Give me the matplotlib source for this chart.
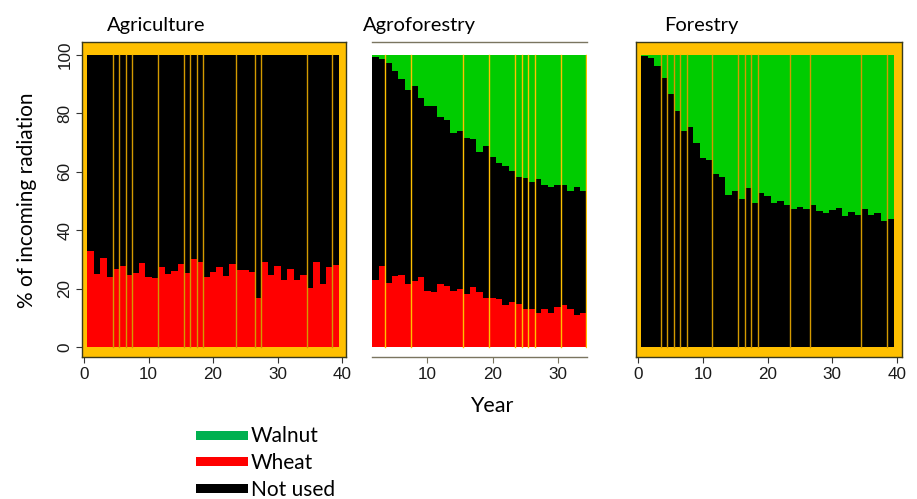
import numpy as np
import matplotlib.pyplot as plt
from matplotlib.patches import Rectangle

plt.rcParams['font.family'] = 'Liberation Sans'

# ---- data ----
years_full = np.arange(1, 40)
years_agro = np.arange(2, 35)

agri_wheat = [32.9, 25.1, 30.4, 24.0, 26.8, 27.9, 24.7, 25.5, 28.7, 24.0,
              23.7, 27.3, 25.1, 26.1, 28.3, 25.5, 30.1, 29.0, 24.0, 25.8,
              27.3, 24.4, 28.3, 26.3, 26.3, 25.8, 16.9, 29.0, 24.7, 27.9,
              22.9, 26.8, 22.9, 24.7, 20.1, 29.0, 21.5, 27.3, 28.0]

agro_wheat = [22.9, 27.9, 21.8, 24.3, 24.7, 21.5, 22.7, 23.9, 19.3, 18.7,
              21.7, 21.0, 19.2, 20.0, 18.2, 20.7, 18.9, 16.9, 16.7, 16.3,
              14.3, 15.5, 14.7, 13.1, 12.9, 11.5, 12.9, 11.5, 13.6, 14.3,
              12.9, 10.8, 11.5]
agro_used = [99.4, 98.6, 97.1, 94.5, 91.7, 88.0, 89.4, 85.2, 82.4, 82.4,
             78.7, 77.7, 73.4, 73.9, 71.5, 71.1, 66.7, 68.7, 65.1, 63.1,
             62.0, 60.3, 58.3, 58.0, 56.6, 57.5, 55.5, 54.7, 55.4, 55.4,
             53.4, 54.9, 53.4]

fore_unused = [99.7, 98.9, 96.3, 92.2, 86.6, 80.7, 74.1, 75.5, 69.7, 64.8,
               64.0, 59.4, 58.3, 51.9, 53.3, 50.8, 54.5, 49.4, 52.6, 51.7,
               49.2, 50.1, 48.7, 47.3, 47.9, 47.3, 48.6, 46.6, 46.0, 46.9,
               47.5, 44.9, 46.1, 45.2, 47.1, 45.2, 45.8, 43.3, 43.9]

# thin gaps between bars visible in the original rendering
agri_gaps = [4.5, 5.5, 6.5, 7.5, 11.5, 15.5, 16.5, 17.5, 18.5, 23.5,
             26.5, 27.5, 34.5, 38.5]
agro_gaps = [3.5, 7.5, 15.5, 19.5, 23.5, 24.5, 25.5, 26.5, 30.5, 34.4]
fore_gaps = [3.5, 4.5, 5.5, 6.5, 7.5, 11.5, 15.5, 16.5, 17.5, 18.5,
             23.5, 26.5, 34.5, 38.5]

legend_labels = ['Walnut', 'Wheat', 'Not used']
legend_colors = ['#00B050', '#FF0000', '#000000']

GREEN = '#00CC00'
RED = '#FF0000'
ORANGE = '#FFC000'
GAP = '#D49A00'
LABEL_FONT = 'Lato'
W, H = 917, 499

fig = plt.figure(figsize=(W / 100, H / 100), dpi=100)


def rect(x0, y0, x1, y1):
    return [x0 / W, 1 - y1 / H, (x1 - x0) / W, (y1 - y0) / H]


YLIM = (-3.42, 104.45)


def style_ticks(ax, color='#333333'):
    ax.tick_params(axis='both', direction='out', length=4, width=0.8,
                   colors=color, labelsize=12.3, labelcolor='#1a1a1a', pad=3)


# ---- Agriculture ----
ax1 = fig.add_axes(rect(82, 42, 346, 357))
ax1.set_facecolor(ORANGE)
ax1.bar(years_full, agri_wheat, width=1, color=RED, linewidth=0)
ax1.bar(years_full, 100 - np.array(agri_wheat), bottom=agri_wheat, width=1,
        color='black', linewidth=0)
for g in agri_gaps:
    ax1.plot([g, g], [0, 100], color=GAP, lw=1)
ax1.set_xlim(-0.31, 40.6)
ax1.set_ylim(*YLIM)
ax1.set_xticks([0, 10, 20, 30, 40])
ax1.set_yticks([0, 20, 40, 60, 80, 100])
for lab in ax1.get_yticklabels():
    lab.set_rotation(90)
    lab.set_va('center')
for s in ax1.spines.values():
    s.set_color('#3a3a1a')
    s.set_linewidth(1)
style_ticks(ax1)

# ---- Agroforestry ----
ax2 = fig.add_axes(rect(372, 42, 587, 357))
ax2.bar(years_agro, agro_wheat, width=1, color=RED, linewidth=0)
ax2.bar(years_agro, np.array(agro_used) - np.array(agro_wheat),
        bottom=agro_wheat, width=1, color='black', linewidth=0)
ax2.bar(years_agro, 100 - np.array(agro_used), bottom=agro_used, width=1,
        color=GREEN, linewidth=0)
for g in agro_gaps:
    ax2.plot([g, g], [0, 100], color=ORANGE, lw=1)
ax2.set_xlim(1.5, 34.5)
ax2.set_ylim(*YLIM)
ax2.set_xticks([10, 20, 30])
ax2.set_yticks([])
ax2.spines['left'].set_visible(False)
ax2.spines['right'].set_visible(False)
for s in ('top', 'bottom'):
    ax2.spines[s].set_color('#7a7560')
    ax2.spines[s].set_linewidth(1)
style_ticks(ax2, color='#7a7560')

# ---- Forestry ----
ax3 = fig.add_axes(rect(636, 42, 902, 357))
ax3.set_facecolor(ORANGE)
ax3.bar(years_full, fore_unused, width=1, color='black', linewidth=0)
ax3.bar(years_full, 100 - np.array(fore_unused), bottom=fore_unused, width=1,
        color=GREEN, linewidth=0)
for g in fore_gaps:
    ax3.plot([g, g], [0, 100], color=GAP, lw=1)
ax3.set_xlim(-0.31, 40.77)
ax3.set_ylim(*YLIM)
ax3.set_xticks([0, 10, 20, 30, 40])
ax3.set_yticks([])
for s in ax3.spines.values():
    s.set_color('#3a3a1a')
    s.set_linewidth(1)
style_ticks(ax3)

# ---- titles and labels ----
for x, t in [(107, 'Agriculture'), (363, 'Agroforestry'), (664, 'Forestry')]:
    fig.text(x / W, 1 - 31 / H, t, fontsize=14.5, family=LABEL_FONT,
             va='baseline', ha='left')
fig.text(27 / W, 1 - 200 / H, '% of incoming radiation', fontsize=15,
         family=LABEL_FONT, rotation=90, va='center', ha='center')
fig.text(492 / W, 1 - 412 / H, 'Year', fontsize=15.5, family=LABEL_FONT,
         va='baseline', ha='center')

# ---- legend (drawn by hand to match the original placement) ----
for i, (lab, col) in enumerate(zip(legend_labels, legend_colors)):
    yc = 435 + i * 26.5
    fig.add_artist(Rectangle((196 / W, 1 - (yc + 4.5) / H), 52 / W, 9 / H,
                             transform=fig.transFigure, facecolor=col,
                             edgecolor='none'))
    fig.text(251 / W, 1 - (yc + 7.5) / H, lab, fontsize=15,
             family=LABEL_FONT, va='baseline', ha='left')

fig.savefig('out.png', dpi=100)
